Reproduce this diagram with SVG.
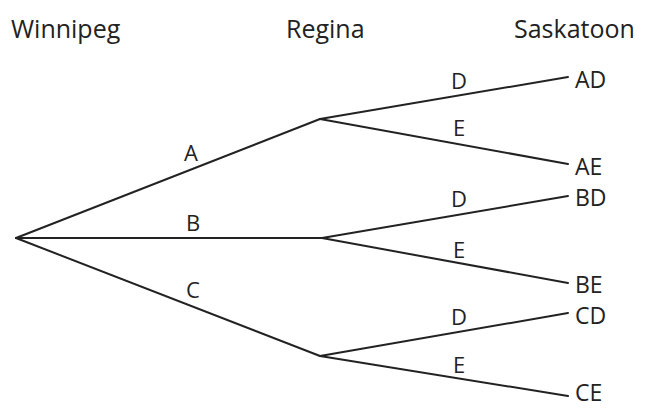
<svg xmlns="http://www.w3.org/2000/svg" width="649" height="410" viewBox="0 0 649 410">
<style>
text{font-family:"Open Sans","Liberation Sans",sans-serif;fill:#222;dominant-baseline:central;font-weight:500}
.t{font-size:25px}
.l{font-size:22px;text-anchor:middle}
.e{font-size:23px}
.c line{stroke:#222;stroke-width:2;stroke-linecap:round}
</style>
<rect width="649" height="410" fill="#fff"/>
<g id="titles">
<text class="t" x="11" y="28">Winnipeg</text>
<text class="t" x="286" y="28">Regina</text>
<text class="t" x="514" y="28">Saskatoon</text>
</g>
<g class="c" id="connectors">
<line x1="16" y1="238" x2="320" y2="119"/>
<line x1="16" y1="238" x2="322" y2="238"/>
<line x1="16" y1="238" x2="320" y2="356"/>
<line x1="320" y1="119" x2="568" y2="77"/>
<line x1="320" y1="119" x2="568" y2="164"/>
<line x1="322" y1="238" x2="568" y2="196"/>
<line x1="322" y1="238" x2="568" y2="283"/>
<line x1="320" y1="356" x2="568" y2="313"/>
<line x1="320" y1="356" x2="568" y2="396"/>
</g>
<g id="edge-labels">
<text class="l" x="191" y="152">A</text>
<text class="l" x="193" y="222">B</text>
<text class="l" x="193" y="289">C</text>
<text class="l" x="459" y="80">D</text>
<text class="l" x="459" y="127">E</text>
<text class="l" x="459" y="198">D</text>
<text class="l" x="459" y="249">E</text>
<text class="l" x="459" y="316">D</text>
<text class="l" x="459" y="364">E</text>
</g>
<g id="node-AD"><text class="e" x="575" y="79">AD</text></g>
<g id="node-AE"><text class="e" x="575" y="166">AE</text></g>
<g id="node-BD"><text class="e" x="575" y="197">BD</text></g>
<g id="node-BE"><text class="e" x="575" y="284">BE</text></g>
<g id="node-CD"><text class="e" x="575" y="315">CD</text></g>
<g id="node-CE"><text class="e" x="575" y="392">CE</text></g>
</svg>
